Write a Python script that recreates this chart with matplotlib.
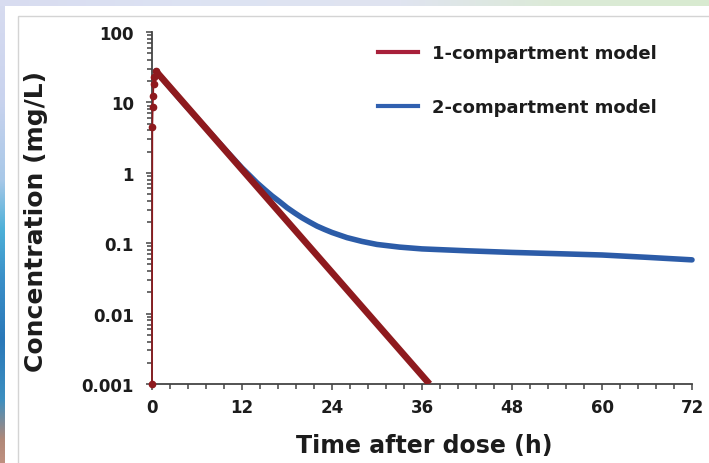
import numpy as np
import matplotlib
matplotlib.use("Agg")
import matplotlib.pyplot as plt
from matplotlib.patches import Rectangle
from matplotlib.lines import Line2D
from matplotlib.ticker import FixedLocator, MultipleLocator, LogLocator, NullFormatter

plt.rcParams['font.family'] = ['DejaVu Sans']
plt.rcParams['font.weight'] = 'bold'

# 1-compartment: absorption (drawn thin with dots) then straight log-linear elimination
one_abs_t = [0, 0.05, 0.1, 0.15, 0.2, 0.25, 0.5]
one_abs_c = [0.001, 4.5, 8.6, 12.3, 18, 23, 28]
one_elim_t = [0.5, 37]
one_elim_c = [28, 0.001]

# 2-compartment curve
two_t = [0.5, 4, 8, 10, 12, 13, 14, 15, 16, 17, 18, 19, 20, 21, 22, 23, 24, 26, 28, 30,
         33, 36, 42, 48, 54, 60, 66, 72]
two_c = [28, 10.3, 3.45, 2.0, 1.17, 0.92, 0.72, 0.58, 0.47, 0.39, 0.32, 0.27, 0.23, 0.2,
         0.175, 0.157, 0.142, 0.12, 0.106, 0.096, 0.088, 0.083, 0.078, 0.074, 0.071,
         0.068, 0.063, 0.058]

labels = ["1-compartment model", "2-compartment model"]
xticks = [0, 12, 24, 36, 48, 60, 72]
yticks = [0.001, 0.01, 0.1, 1, 10, 100]
ytick_labels = ["0.001", "0.01", "0.1", "1", "10", "100"]

red = "#8e1a1e"
blue = "#2c5ca8"
text_col = "#1c1c1c"
axis_col = "#444444"

W, H = 709, 464
fig = plt.figure(figsize=(W / 100, H / 100), dpi=100)

# background: blurred photo strip at top and left, white panel with thin frame
bg = fig.add_axes([0, 0, 1, 1])
img = np.ones((H, W, 3))
ys = np.arange(H)
xs = np.arange(W)
left_stops = [0, 100, 180, 230, 280, 340, 400, 440, 464]
left_cols = ["#d8dcf0", "#c9d3ee", "#a8c8e8", "#4db0d8", "#3a8fc8", "#2a78b8",
             "#3d8fc0", "#b08878", "#c09080"]
top_stops = [0, 200, 400, 550, 709]
top_cols = ["#d8dcf0", "#dde3f3", "#e0e4f0", "#dcead8", "#d8ead0"]
lc = np.array([matplotlib.colors.to_rgb(c) for c in left_cols])
tc = np.array([matplotlib.colors.to_rgb(c) for c in top_cols])
for k in range(3):
    img[:, :5, k] = np.interp(ys, left_stops, lc[:, k])[:, None]
    img[:7, :, k] = np.interp(xs, top_stops, tc[:, k])[None, :]
bg.imshow(img, extent=[0, W, H, 0], aspect='auto')
bg.add_patch(Rectangle((18, 17), W, H, fill=False, edgecolor="#d4d4d4", lw=1))
bg.set_xlim(0, W)
bg.set_ylim(H, 0)
bg.axis('off')

ax = fig.add_axes([152 / W, 1 - 385 / H, 540 / W, 352 / H])
ax.patch.set_alpha(0)
ax.set_yscale('log')

ax.plot(two_t, two_c, color=blue, lw=4.0, solid_capstyle='round', solid_joinstyle='round',
        zorder=3, clip_on=False)
ax.plot(one_elim_t, one_elim_c, color=red, lw=4.8, solid_capstyle='butt', zorder=4)
ax.plot(one_abs_t, one_abs_c, color=red, lw=1.2, marker='o', ms=4.5, zorder=5, clip_on=False)

ax.set_xlim(0, 72)
ax.set_ylim(0.001, 100)

for s in ['top', 'right']:
    ax.spines[s].set_visible(False)
for s in ['left', 'bottom']:
    ax.spines[s].set_color(axis_col)
    ax.spines[s].set_linewidth(1.3)

ax.xaxis.set_major_locator(FixedLocator(xticks))
ax.xaxis.set_minor_locator(MultipleLocator(2.4))
ax.yaxis.set_major_locator(FixedLocator(yticks))
ax.set_yticklabels(ytick_labels)
ax.yaxis.set_minor_locator(LogLocator(base=10, subs=np.arange(2, 10)))
ax.yaxis.set_minor_formatter(NullFormatter())

ax.tick_params(axis='both', which='both', direction='out', color=axis_col, width=1.1,
               labelcolor=text_col, labelsize=12)
ax.tick_params(axis='both', which='major', length=4)
ax.tick_params(axis='both', which='minor', length=3.5)
ax.tick_params(axis='x', which='major', pad=6)
ax.tick_params(axis='y', which='major', pad=9)
for lab in ax.get_xticklabels() + ax.get_yticklabels():
    lab.set_fontweight('bold')

ax.set_xlabel("Time after dose (h)", fontsize=17, fontweight='bold', color=text_col)
ax.xaxis.set_label_coords((424 - 152) / 540, (385 - 446) / 352)
ax.xaxis.label.set_va('center')
ax.set_ylabel("Concentration (mg/L)", fontsize=18, fontweight='bold', color=text_col)
ax.yaxis.set_label_coords((36 - 152) / 540, 1 - (222 - 33) / 352)
ax.yaxis.label.set_va('center')

handles = [Line2D([], [], color="#a8203a", lw=3), Line2D([], [], color="#3060b0", lw=3)]
leg = ax.legend(handles, labels, loc='upper left',
                bbox_to_anchor=((378 - 152) / 540, 1 - (45 - 33) / 352),
                frameon=False, fontsize=13, handlelength=2.2, handletextpad=0.8,
                labelspacing=2.0, borderpad=0, borderaxespad=0)
for t in leg.get_texts():
    t.set_fontweight('bold')
    t.set_color(text_col)

fig.savefig("out.png", dpi=100)
